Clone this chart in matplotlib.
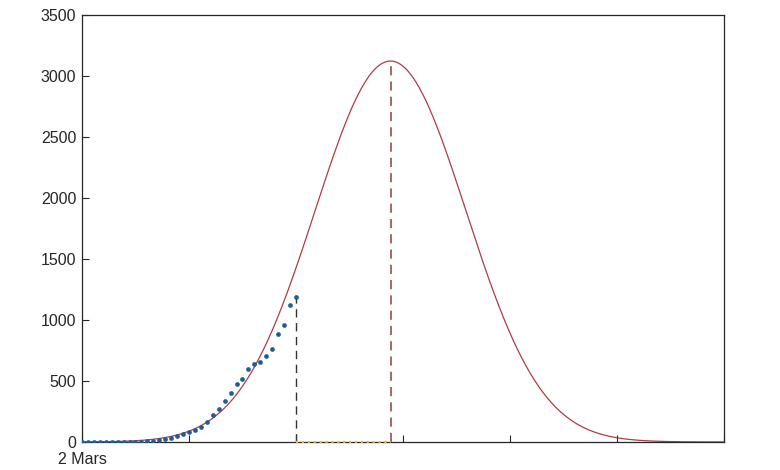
import numpy as np
import matplotlib
matplotlib.use("Agg")
import matplotlib.pyplot as plt

plt.rcParams['font.family'] = ['Liberation Sans', 'DejaVu Sans']

# Observed daily cases (day 0 = 2 Mars)
days = list(range(37))
cases = [0, 0, 0, 0, 0, 0, 0, 0, 1, 2, 3, 5,
         10, 16, 24, 34, 48, 62, 80, 100, 125, 165, 220, 270,
         335, 399, 475, 514, 598, 637, 653, 705, 760, 883, 959, 1120, 1186]

# Fitted bell-curve model parameters
peak_value = 3123
peak_day = 51.9
spread_days = 12.7

x_max = 108
x_ticks = [0, 18, 36, 54, 72, 90, 108]
x_tick_labels = ['2 Mars', '', '', '', '', '', '']
y_ticks = [0, 500, 1000, 1500, 2000, 2500, 3000, 3500]

fig = plt.figure(figsize=(7.8, 4.7), dpi=100)
ax = fig.add_axes([0.1051, 0.0596, 0.8231, 0.9084])

t = np.linspace(0, x_max, 600)
model = peak_value * np.exp(-(t - peak_day) ** 2 / (2 * spread_days ** 2))
ax.plot(t, model, color='#b03c44', lw=0.9, zorder=2)

ax.plot(days, cases, linestyle='none', marker='o', markersize=3.4,
        color='#1f5f8f', markeredgewidth=0, zorder=3)

last_day = days[-1]
ax.plot([last_day, last_day], [0, cases[-1]], color='#333333', lw=1.0,
        dashes=(6, 4), zorder=2)
ax.plot([peak_day, peak_day], [0, peak_value], color='#8c4040', lw=1.1,
        dashes=(6, 4), zorder=2)
ax.plot([last_day, peak_day], [0, 0], color='#e0b838', lw=1.6,
        linestyle=':', zorder=4, clip_on=False)

ax.set_xlim(0, x_max)
ax.set_ylim(0, 3500)
ax.set_xticks(x_ticks)
ax.set_xticklabels(x_tick_labels)
ax.set_yticks(y_ticks)
ax.tick_params(direction='in', length=5, width=0.8, colors='#262626',
               labelsize=11.5, pad=4)
ax.tick_params(axis='x', pad=7)
for s in ax.spines.values():
    s.set_color('#262626')
    s.set_linewidth(0.9)

fig.savefig('out.png', dpi=100)
